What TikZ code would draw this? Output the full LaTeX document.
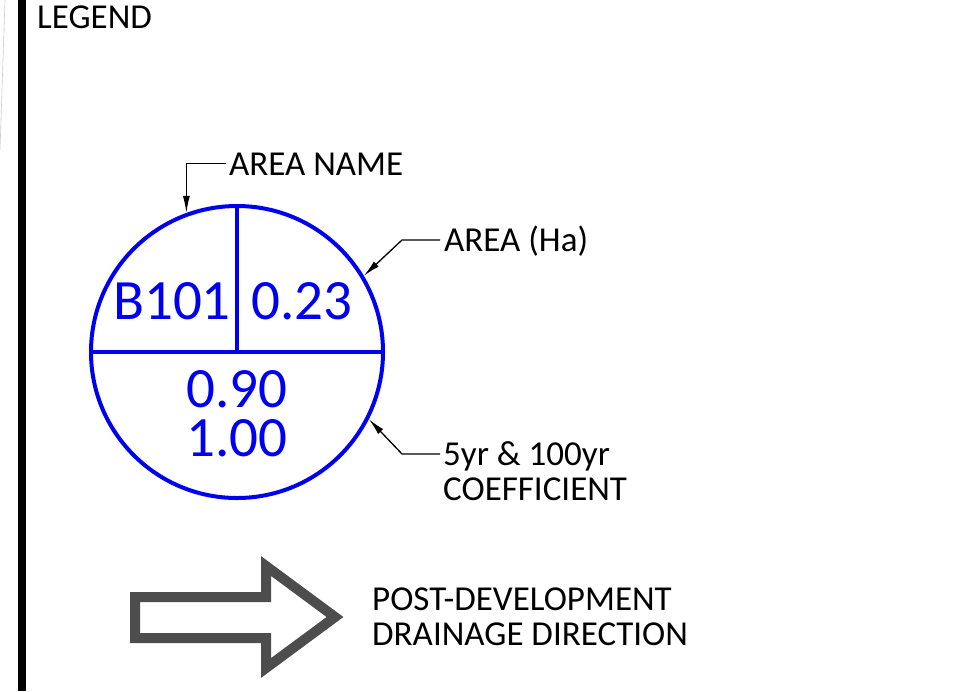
\documentclass[tikz,border=0pt]{standalone}
\usepackage{fontspec}
\setmainfont{Carlito}
\usepackage{tikz}
\usetikzlibrary{arrows.meta,positioning}
\usepackage{xcolor}
\definecolor{areablue}{RGB}{0, 0, 240}
\definecolor{flowgray}{RGB}{77, 77, 77}

\tikzset{
  legendtext/.style={font=\fontsize{35}{35}\selectfont, inner sep=0pt, align=left},
  areatext/.style={font=\fontsize{57}{49}\selectfont, text=areablue, inner sep=0pt},
  leader/.style={line width=1.3pt, -{Latex[length=17pt,width=7pt]}}
}

\begin{document}
\begin{tikzpicture}[x=1pt,y=-1pt]
    \useasboundingbox (0,0) rectangle (968,691);

    % Sheet border
    \draw[line width=8pt] (21.5,0) -- (21.5,691);
    \draw[gray!40, line width=0.6pt] (5,0) -- (0,150);

    \node[legendtext, anchor=base west] (legend) at (37,28) {LEGEND};

    % Area tag
    \node[circle, draw=areablue, line width=4pt, minimum size=292pt, inner sep=0pt] (area) at (237,352) {};
    \draw[areablue, line width=3.5pt] (area.north) -- (area.center);
    \draw[areablue, line width=3.5pt] (area.west) -- (area.east);

    \node[areatext, anchor=base] (name) at (172,319) {B101};
    \node[areatext, anchor=base] (size) at (302,319) {0.23};
    \node[areatext, anchor=base] (coef5) at (237,407) {0.90};
    \node[areatext, anchor=base] (coef100) at (237,456) {1.00};

    % Callouts
    \node[legendtext, anchor=base west] (aname) at (229,175) {AREA NAME};
    \node[legendtext, anchor=base west] (aha) at (444,251) {AREA (Ha)};
    \node[legendtext, anchor=base west] (acoef) at (443,500) {5yr \& 100yr\\COEFFICIENT};

    \draw[leader] ([xshift=-3pt]aname.west) -| (area.110);
    \draw[leader] ([xshift=-4pt]aha.west |- 0,240) -- ++(-38,0) -- (area.31);
    \draw[leader] ([xshift=-3pt]acoef.west |- 0,454) -- ++(-38,0) -- (area.-27);

    % Drainage arrow
    \draw[flowgray, line width=10pt, miter limit=20]
        (135,597) -- (266,597) -- (266,566) -- (335,617) -- (266,668)
        -- (266,638) -- (135,638) -- cycle;
    \node[legendtext, anchor=base west] (flow) at (372,645) {POST-DEVELOPMENT\\DRAINAGE DIRECTION};
\end{tikzpicture}
\end{document}
